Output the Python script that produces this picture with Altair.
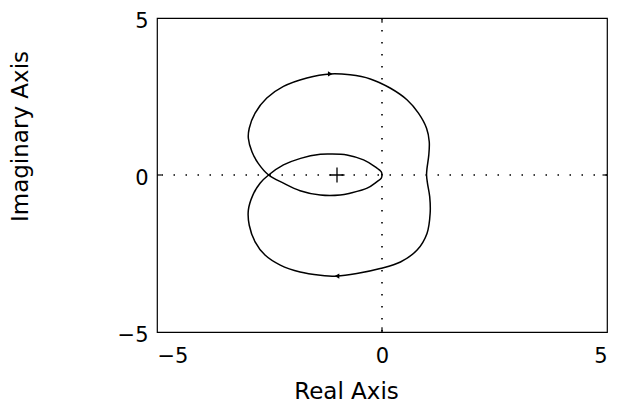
import altair as alt
import pandas as pd

# Nyquist contour, traced as one closed path (real and imaginary parts)
re = [0.00, -0.015, -0.15, -0.41, -0.78, -1.15, -1.37, -1.81, -2.19, -2.52,
      -2.71, -2.87, -2.97, -2.95, -2.82, -2.60, -2.26, -1.82, -1.37, -1.00,
      -0.56, -0.04, 0.41, 0.78, 1.00, 1.07, 1.06, 1.01, 0.99, 1.00,
      1.04, 1.05, 0.99, 0.81, 0.56, 0.18, -0.26, -0.71, -1.15, -1.67,
      -2.19, -2.56, -2.82, -2.95, -2.97, -2.89, -2.75, -2.52, -2.19, -1.82,
      -1.37, -0.93, -0.71, -0.33, -0.11, -0.015, 0.00]
im = [0.00, 0.10, 0.26, 0.48, 0.64, 0.67, 0.66, 0.53, 0.32, 0.00,
      -0.26, -0.64, -1.12, -1.60, -2.13, -2.55, -2.87, -3.09, -3.19, -3.22,
      -3.14, -2.98, -2.77, -2.39, -1.86, -1.22, -0.69, -0.26, 0.00, 0.21,
      0.64, 1.06, 1.49, 1.97, 2.39, 2.77, 3.06, 3.19, 3.22, 3.09,
      2.82, 2.45, 1.97, 1.49, 1.17, 0.74, 0.37, 0.00, -0.26, -0.50,
      -0.64, -0.64, -0.58, -0.42, -0.21, -0.10, 0.00]

# Direction arrows on the two frequency branches
arrow_re = [-1.15, -1.00]
arrow_im = [3.22, -3.22]
arrow_shape = ["triangle-right", "triangle-left"]

# Critical point -1 + 0j
crit_re = [-1.0]
crit_im = [0.0]

axis_ticks = [-5, 0, 5]
# Short inward tick marks at zero on the frame (start, end in data units)
xtick_y = [(-5.0, -4.85), (4.85, 5.0)]
ytick_x = [(-5.0, -4.9), (4.9, 5.0)]

FONT = "DejaVu Sans"

curve = pd.DataFrame({"re": re, "im": im, "k": list(range(len(re)))})
arrows = pd.DataFrame({"re": arrow_re, "im": arrow_im, "shape": arrow_shape})
crit = pd.DataFrame({"re": crit_re, "im": crit_im})
zero = pd.DataFrame({"v": [0.0]})
xt = pd.DataFrame({"x": [0.0, 0.0], "y": [a for a, b in xtick_y],
                   "y2": [b for a, b in xtick_y]})
yt = pd.DataFrame({"y": [0.0, 0.0], "x": [a for a, b in ytick_x],
                   "x2": [b for a, b in ytick_x]})

xs = alt.Scale(domain=[-5, 5], nice=False, zero=False)
ys = alt.Scale(domain=[-5, 5], nice=False, zero=False)

x_axis = alt.Axis(values=axis_ticks, grid=False, ticks=False, domain=False,
                  labelFont=FONT, labelFontSize=21, labelColor="black",
                  labelPadding=30, labelBaseline="alphabetic",
                  title="Real Axis", titleFont=FONT, titleFontSize=23,
                  titleFontWeight="normal", titleColor="black",
                  titleBaseline="alphabetic", titleAlign="center",
                  titleX=189, titleY=66)
y_axis = alt.Axis(values=axis_ticks, grid=False, ticks=False, domain=False,
                  labelFont=FONT, labelFontSize=21, labelColor="black",
                  labelPadding=9, labelBaseline="middle", labelOffset=3,
                  title="Imaginary Axis", titleFont=FONT, titleFontSize=23,
                  titleFontWeight="normal", titleColor="black",
                  titleAngle=-90, titleBaseline="alphabetic",
                  titleAlign="center", titleX=-130, titleY=118)

line = alt.Chart(curve).mark_line(
    color="black", strokeWidth=1.5, interpolate="catmull-rom"
).encode(
    x=alt.X("re:Q", scale=xs, axis=x_axis),
    y=alt.Y("im:Q", scale=ys, axis=y_axis),
    order="k:Q",
)

vrule = alt.Chart(zero).mark_rule(
    color="black", strokeWidth=1.6, strokeDash=[1.5, 10.5]
).encode(x=alt.X("v:Q", scale=xs))

hrule = alt.Chart(zero).mark_rule(
    color="black", strokeWidth=1.6, strokeDash=[1.5, 10.5]
).encode(y=alt.Y("v:Q", scale=ys))

xticks = alt.Chart(xt).mark_rule(color="black", strokeWidth=1.2).encode(
    x=alt.X("x:Q", scale=xs), y=alt.Y("y:Q", scale=ys), y2="y2:Q"
)
yticks = alt.Chart(yt).mark_rule(color="black", strokeWidth=1.2).encode(
    y=alt.Y("y:Q", scale=ys), x=alt.X("x:Q", scale=xs), x2="x2:Q"
)

arrow_marks = alt.Chart(arrows).mark_point(
    filled=True, color="black", size=28, opacity=1
).encode(
    x=alt.X("re:Q", scale=xs),
    y=alt.Y("im:Q", scale=ys),
    shape=alt.Shape("shape:N", scale=None, legend=None),
)

plus = alt.Chart(crit).mark_point(
    shape="M-1,0L1,0M0,-1L0,1", filled=False, color="black",
    strokeWidth=1.3, size=225, opacity=1
).encode(
    x=alt.X("re:Q", scale=xs),
    y=alt.Y("im:Q", scale=ys),
)

chart = alt.layer(vrule, hrule, xticks, yticks, line, arrow_marks, plus).properties(
    width=450,
    height=314,
    autosize=alt.AutoSizeParams(type="none"),
    padding={"left": 157, "top": 18, "right": 10, "bottom": 75},
    background="white",
).configure_view(
    stroke="black", strokeWidth=1.2
)

chart.save("out.html", embed_options={"renderer": "svg", "actions": False})
